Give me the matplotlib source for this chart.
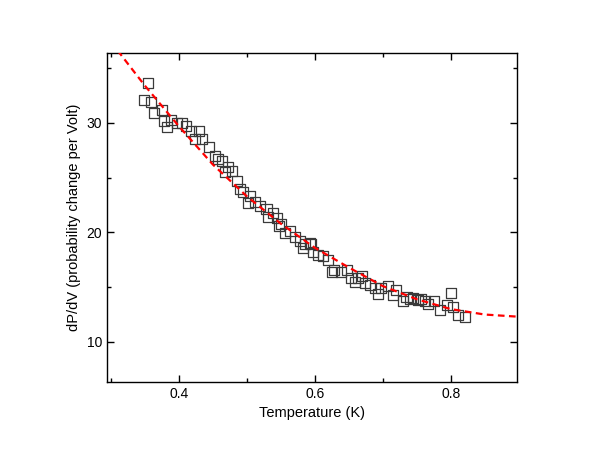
import matplotlib
matplotlib.use('Agg')
import matplotlib.pyplot as plt
from matplotlib.ticker import MultipleLocator

plt.rcParams['font.family'] = ['Liberation Sans', 'DejaVu Sans']

#data ================================================
temp = [0.354, 0.349, 0.359, 0.363, 0.375, 0.378, 0.383, 0.389, 0.397, 0.404,
        0.411, 0.418, 0.430, 0.424, 0.434, 0.444, 0.453, 0.464, 0.468, 0.478,
        0.485, 0.490, 0.495, 0.504, 0.502, 0.512, 0.519, 0.529, 0.531, 0.539,
        0.544, 0.551, 0.556, 0.563, 0.571, 0.578, 0.583, 0.593, 0.595, 0.598,
        0.605, 0.612, 0.620, 0.625, 0.629, 0.639, 0.647, 0.654, 0.659, 0.669,
        0.674, 0.681, 0.693, 0.698, 0.708, 0.715, 0.720, 0.730, 0.735, 0.745,
        0.752, 0.762, 0.767, 0.776, 0.784, 0.794, 0.801, 0.804, 0.811, 0.821,
        0.458, 0.472, 0.548, 0.586, 0.664, 0.688, 0.740, 0.757]
dpdv = [33.6, 32.1, 31.9, 30.9, 31.2, 30.2, 29.6, 30.3, 30.0, 30.0,
        29.7, 29.3, 29.3, 28.5, 28.5, 27.8, 27.0, 26.5, 25.5, 25.6,
        24.7, 24.0, 23.7, 23.3, 22.7, 22.8, 22.4, 22.1, 21.4, 21.8,
        21.3, 20.8, 19.9, 20.1, 19.6, 19.2, 18.6, 19.0, 18.9, 18.2,
        17.9, 17.8, 17.5, 16.4, 16.6, 16.4, 16.6, 15.8, 15.5, 16.0,
        15.4, 15.2, 14.4, 14.9, 15.1, 14.3, 14.7, 13.7, 14.1, 14.0,
        13.8, 13.7, 13.5, 13.7, 12.9, 13.4, 14.5, 13.2, 12.5, 12.3,
        26.7, 26.0, 20.6, 18.9, 15.8, 14.9, 13.9, 13.9]

fit_x = [0.31, 0.35, 0.40, 0.45, 0.50, 0.55, 0.60, 0.65, 0.70, 0.75, 0.80, 0.85, 0.90]
fit_y = [36.6, 33.4, 29.7, 26.2, 23.3, 20.8, 18.6, 16.8, 15.1, 13.9, 13.0, 12.5, 12.3]
#=====================================================

fig = plt.figure(figsize=(6, 4.59), dpi=100)
ax = fig.add_axes([0.178, 0.168, 0.683, 0.717])

ax.scatter(temp, dpdv, s=52, marker='s', facecolors='none',
           edgecolors='#3a3a3a', linewidths=0.9, zorder=2)
ax.plot(fit_x, fit_y, color='red', linestyle=(0, (3, 2)), linewidth=1.6, zorder=3)

ax.set_xlim(0.294, 0.897)
ax.set_ylim(6.35, 36.4)

ax.xaxis.set_major_locator(MultipleLocator(0.2))
ax.xaxis.set_minor_locator(MultipleLocator(0.1))
ax.yaxis.set_major_locator(MultipleLocator(10))
ax.yaxis.set_minor_locator(MultipleLocator(5))
ax.tick_params(which='both', direction='in', top=True, right=True, labelsize=10, width=1)
ax.tick_params(which='major', length=5)
ax.tick_params(which='minor', length=3)
for s in ax.spines.values():
    s.set_linewidth(1)

ax.set_xlabel('Temperature (K)', fontsize=10.5)
ax.set_ylabel('dP/dV (probability change per Volt)', fontsize=10.5)

fig.savefig('out.png', dpi=100)
